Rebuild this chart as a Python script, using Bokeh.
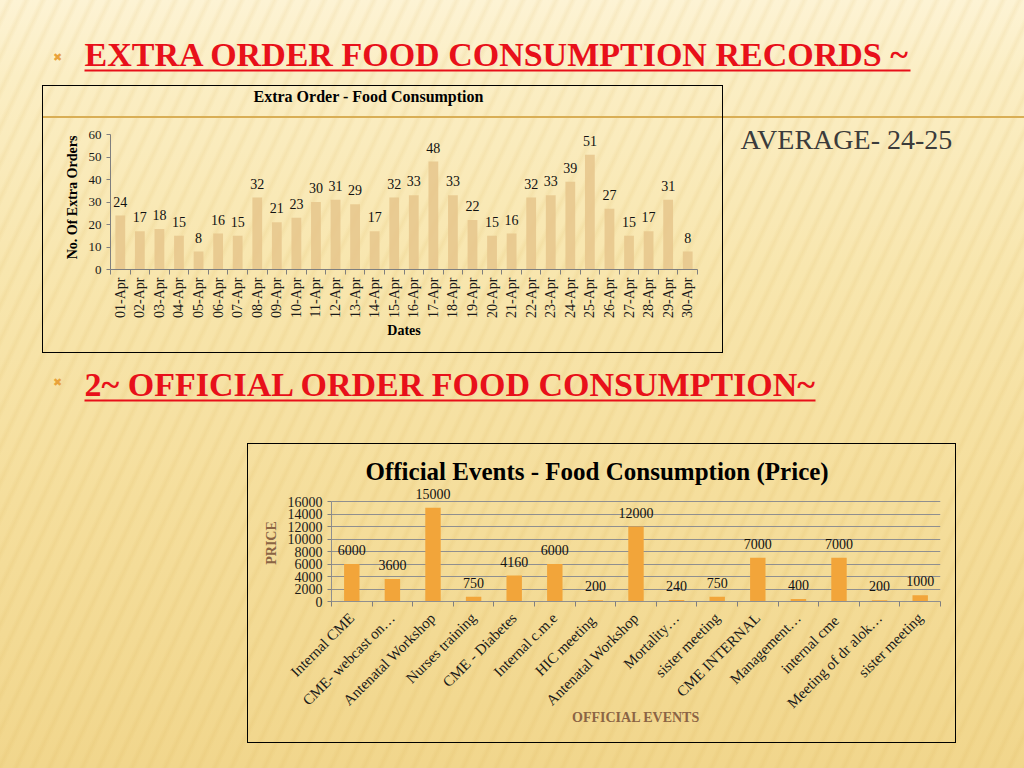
import math
from bokeh.plotting import figure
from bokeh.layouts import column, row
from bokeh.models import Range1d, FixedTicker, Title
from bokeh.core.properties import value
from bokeh.embed import file_html
from bokeh.resources import INLINE

# ---------------- data ----------------
heading1 = "EXTRA ORDER FOOD CONSUMPTION RECORDS ~"
heading2 = "2~ OFFICIAL ORDER FOOD CONSUMPTION~"
average_text = "AVERAGE- 24-25"

chart1_title = "Extra Order -  Food Consumption"
dates = ["01-Apr", "02-Apr", "03-Apr", "04-Apr", "05-Apr", "06-Apr", "07-Apr", "08-Apr",
         "09-Apr", "10-Apr", "11-Apr", "12-Apr", "13-Apr", "14-Apr", "15-Apr", "16-Apr",
         "17-Apr", "18-Apr", "19-Apr", "20-Apr", "21-Apr", "22-Apr", "23-Apr", "24-Apr",
         "25-Apr", "26-Apr", "27-Apr", "28-Apr", "29-Apr", "30-Apr"]
extra_orders = [24, 17, 18, 15, 8, 16, 15, 32, 21, 23, 30, 31, 29, 17, 32, 33,
                48, 33, 22, 15, 16, 32, 33, 39, 51, 27, 15, 17, 31, 8]
y1_ticks = [0, 10, 20, 30, 40, 50, 60]

chart2_title = "Official Events - Food Consumption (Price)"
events = ["Internal CME", "CME- webcast on\u2026", "Antenatal Workshop", "Nurses training",
          "CME - Diabetes", "Internal c.m.e", "HIC  meeting", "Antenatal Workshop",
          "Mortality\u2026", "sister meeting", "CME INTERNAL", "Management\u2026",
          "internal  cme", "Meeting of dr alok\u2026", "sister meeting"]
prices = [6000, 3600, 15000, 750, 4160, 6000, 200, 12000, 240, 750, 7000, 400, 7000, 200, 1000]
y2_ticks = [0, 2000, 4000, 6000, 8000, 10000, 12000, 14000, 16000]

SERIF = "Liberation Serif"
RED = "#E8101A"
GOLD_LINE = "#D9AE55"
BULLET = "#E9A23B"
BROWN = "#8B6444"
GOLD_BG = f"linear-gradient(180deg, rgba(0,0,0,0) 31px, {GOLD_LINE} 31px, {GOLD_LINE} 33px, rgba(0,0,0,0) 33px)"


def pad(w, h):
    f = figure(width=w, height=h, x_range=Range1d(0, w), y_range=Range1d(h, 0),
               output_backend="svg", toolbar_location=None, min_border=0, title=None,
               x_axis_location=None, y_axis_location=None, frame_align=False,
               background_fill_color=None, border_fill_color=None, outline_line_color=None)
    f.grid.visible = False
    return f


# ---------------- row A : heading 1 ----------------
hA = pad(1024, 85)
hA.text(x=[57], y=[57], text=["\u2716"], text_font=value("DejaVu Sans"), text_font_size="11px",
        text_color=BULLET, text_align="center", text_baseline="middle")
hA.text(x=[84], y=[54], text=[heading1], text_font=value(SERIF), text_font_style="bold",
        text_font_size="34px", text_color=RED, text_baseline="middle")
hA.quad(left=[84], right=[910], top=[69], bottom=[71], fill_color=RED, line_color=None)

# ---------------- row B : chart 1 ----------------
padB_left = pad(42, 268)

x1 = list(range(len(dates)))
p1 = figure(width=681, height=268, x_range=Range1d(-0.5, len(dates) - 0.5), y_range=Range1d(0, 64),
            output_backend="svg", toolbar_location=None, title=None,
            min_border_left=68, min_border_right=26, min_border_top=40, min_border_bottom=84,
            background_fill_color=None, border_fill_color=None, outline_line_color=None)
p1.styles = {"background": GOLD_BG, "box-shadow": "inset 0 0 0 1px #000000"}
p1.grid.visible = False
p1.vbar(x=x1, top=extra_orders, width=0.5, fill_color="#E6C68C", fill_alpha=0.85, line_color=None)
p1.text(x=x1, y=extra_orders, text=[str(v) for v in extra_orders], y_offset=-14,
        text_font=value(SERIF), text_font_size="14px", text_color="#111111",
        text_align="center", text_baseline="middle")

# title with an empty second line so that it sits near the top of the box
p1.add_layout(Title(text=chart1_title + "\n\u00a0", align="left", offset=143, standoff=0,
                    vertical_align="top", text_line_height=1.1,
                    text_font=SERIF, text_font_style="bold", text_font_size="16px",
                    text_color="#000000"), "above")

p1.xaxis.ticker = FixedTicker(ticks=x1, minor_ticks=[i - 0.5 for i in range(len(dates) + 1)])
p1.xaxis.major_label_overrides = {i: d for i, d in zip(x1, dates)}
p1.xaxis.major_label_orientation = math.pi / 2
p1.xaxis.major_tick_line_color = None
p1.xaxis.major_tick_out = 0
p1.xaxis.minor_tick_out = 5
p1.xaxis.minor_tick_in = 0
p1.xaxis.minor_tick_line_color = "#7f7f7f"
p1.xaxis.major_label_standoff = 3
p1.xaxis.axis_label = "Dates"
p1.yaxis.ticker = FixedTicker(ticks=y1_ticks)
p1.yaxis.bounds = (0, 60)
p1.yaxis.axis_label = "No. Of Extra Orders"
p1.yaxis.major_tick_out = 4
p1.yaxis.major_tick_in = 0
p1.yaxis.major_tick_line_color = "#7f7f7f"
p1.yaxis.major_label_standoff = 5
for ax in (p1.xaxis, p1.yaxis):
    ax.axis_line_color = "#7f7f7f"
    ax.major_label_text_font = SERIF
    ax.major_label_text_color = "#1a1a1a"
    ax.axis_label_text_font = SERIF
    ax.axis_label_text_font_style = "bold"
    ax.axis_label_text_font_size = "14px"
    ax.axis_label_text_color = "#000000"
p1.xaxis.axis_label_standoff = 2
p1.yaxis.axis_label_standoff = 6
p1.xaxis.major_label_text_font_size = "14px"
p1.yaxis.major_label_text_font_size = "13px"

padB_right = pad(301, 268)
padB_right.styles = {"background": GOLD_BG}
padB_right.text(x=[17], y=[54], text=[average_text], text_font=value(SERIF), text_font_size="28px",
                text_color="#3B3B3B", text_baseline="middle")

# ---------------- row C : heading 2 ----------------
hC = pad(1024, 90)
hC.text(x=[57], y=[29], text=["\u2716"], text_font=value("DejaVu Sans"), text_font_size="11px",
        text_color=BULLET, text_align="center", text_baseline="middle")
hC.text(x=[84], y=[31], text=[heading2], text_font=value(SERIF), text_font_style="bold",
        text_font_size="34px", text_color=RED, text_baseline="middle")
hC.quad(left=[84], right=[815], top=[46], bottom=[48], fill_color=RED, line_color=None)

# ---------------- row D : chart 2 ----------------
padD_left = pad(247, 300)

x2 = list(range(len(events)))
p2 = figure(width=709, height=300, x_range=Range1d(-0.5, len(events) - 0.5), y_range=Range1d(0, 18720),
            output_backend="svg", toolbar_location=None,
            min_border_left=84, min_border_right=16, min_border_top=41, min_border_bottom=142,
            background_fill_color=None, border_fill_color=None, outline_line_color=None)
p2.styles = {"box-shadow": "inset 0 0 0 1px #000000"}
p2.xgrid.visible = False
p2.ygrid.ticker = FixedTicker(ticks=y2_ticks)
p2.ygrid.grid_line_color = "#8f8f8f"
p2.ygrid.grid_line_width = 1
p2.vbar(x=x2, top=prices, width=0.38, fill_color="#F2A53A", line_color=None)
p2.text(x=x2, y=prices, text=[str(v) for v in prices], y_offset=-14,
        text_font=value(SERIF), text_font_size="14px", text_color="#111111",
        text_align="center", text_baseline="middle")

p2.title.text = chart2_title
p2.title.align = "left"
p2.title.offset = 34
p2.title.standoff = 0
p2.title.text_font = SERIF
p2.title.text_font_style = "bold"
p2.title.text_font_size = "25px"
p2.title.text_color = "#000000"

p2.xaxis.ticker = FixedTicker(ticks=x2, minor_ticks=[i - 0.5 for i in range(len(events) + 1)])
p2.xaxis.major_label_overrides = {i: e for i, e in zip(x2, events)}
p2.xaxis.major_label_orientation = math.pi / 4
p2.xaxis.major_tick_line_color = None
p2.xaxis.major_tick_out = 0
p2.xaxis.minor_tick_out = 5
p2.xaxis.minor_tick_in = 0
p2.xaxis.minor_tick_line_color = "#7f7f7f"
p2.xaxis.major_label_standoff = 9
p2.xaxis.axis_label = "OFFICIAL EVENTS"
p2.yaxis.ticker = FixedTicker(ticks=y2_ticks)
p2.yaxis.bounds = (0, 16000)
p2.yaxis.axis_label = "PRICE"
p2.yaxis.major_tick_out = 4
p2.yaxis.major_tick_in = 0
p2.yaxis.major_tick_line_color = "#7f7f7f"
p2.yaxis.major_label_standoff = 5
for ax in (p2.xaxis, p2.yaxis):
    ax.axis_line_color = "#8f8f8f"
    ax.major_label_text_font = SERIF
    ax.major_label_text_color = "#1a1a1a"
    ax.axis_label_text_font = SERIF
    ax.axis_label_text_font_style = "bold"
    ax.axis_label_text_font_size = "14px"
    ax.axis_label_text_color = BROWN
p2.xaxis.axis_label_standoff = -10
p2.yaxis.axis_label_standoff = 6
p2.xaxis.major_label_text_font_size = "15px"
p2.yaxis.major_label_text_font_size = "14px"

padD_right = pad(68, 300)

# ---------------- row E ----------------
hE = pad(1024, 25)

bg = ("repeating-linear-gradient(115deg, rgba(255,255,255,0) 0px, rgba(255,255,255,0) 5px, "
      "rgba(206,160,60,0.10) 9px, rgba(255,255,255,0) 13px, rgba(255,255,255,0) 15px), "
      "linear-gradient(180deg, #FDF3D4 0%, #FBEEC4 10%, #F8E6AE 35%, #F5DE9C 65%, #F1D68C 100%)")

layout = column(
    hA,
    row(padB_left, p1, padB_right, spacing=0),
    hC,
    row(padD_left, p2, padD_right, spacing=0),
    hE,
    spacing=0,
    styles={"background": bg},
)

open("out.html", "w").write(file_html(layout, INLINE))
